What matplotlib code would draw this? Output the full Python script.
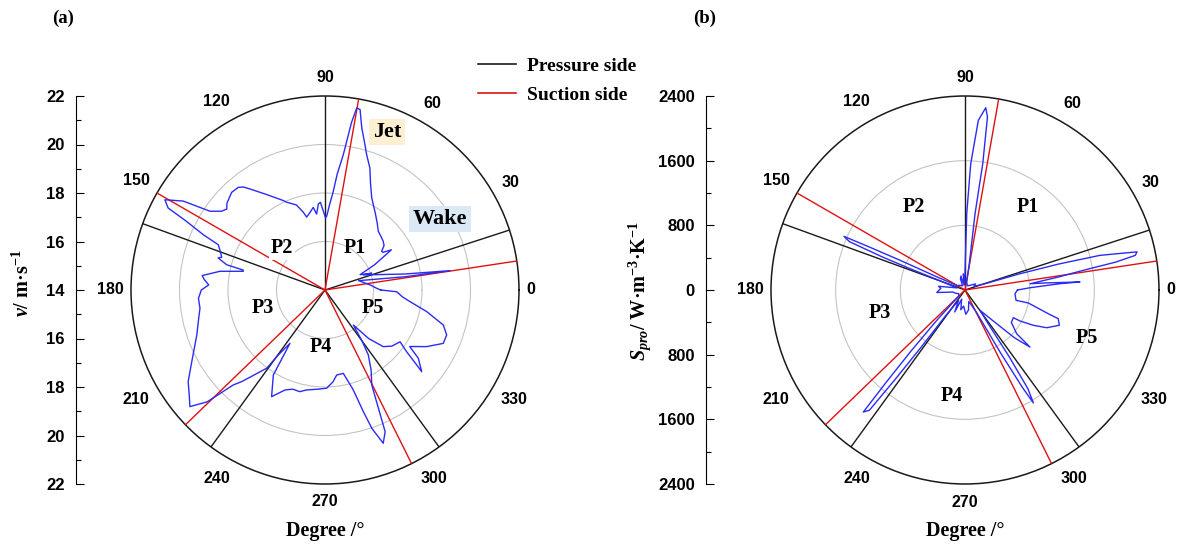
import numpy as np
import matplotlib
matplotlib.use("Agg")
import matplotlib.pyplot as plt
from matplotlib.lines import Line2D

plt.rcParams['mathtext.fontset'] = 'custom'
plt.rcParams['mathtext.rm'] = 'Liberation Serif:bold'
plt.rcParams['mathtext.it'] = 'Liberation Serif:italic:bold'
plt.rcParams['mathtext.bf'] = 'Liberation Serif:bold'

# ---------------- data ----------------
theta_ticks = list(range(0, 360, 30))
pressure_angles = [90, 18, 306, 234, 160]
suction_angles = [80, 8.6, 296.5, 224, 150]

# panel (a): velocity (m/s) vs angle (deg)
vel_theta = [0, 1.9, 6, 15.5, 9.4, 8.8, 11.3, 21.4, 19.7, 23.6, 27, 31.2, 33, 34.3, 37,
             39.9, 44, 47.8, 52, 57, 63.1, 67, 69.8, 72.9, 75, 77.2, 79, 80.1, 81, 82.3,
             84, 85.2, 87, 88.7, 89.6, 91.5, 93, 94.4, 96.3, 98.1, 100.9, 104.1, 105.6, 108.6,
             113.6, 115, 118, 121.3, 126.6, 128.4, 130.2, 133.7, 137, 138.5, 140.5, 142.7, 145.6, 147.9,
             150.6, 152.4, 153.6, 155.6, 157, 159.8, 162.4, 163.3, 165.6, 166.3, 167.1, 169.9, 173.3, 175,
             177.5, 180, 183.8, 188.3, 193, 199.3, 204, 208.3, 213.8, 218, 220.8, 223.5, 226, 227.7,
             230, 233.3, 234.3, 236.7, 238.7, 243.4, 248.2, 252, 256, 259.6, 266, 271, 275, 277.8,
             282.4, 285.8, 287.5, 288.7, 290.8, 293, 294.3, 296.2, 300, 303.7, 306, 309, 312, 315.8,
             320, 325.4, 322.9, 320.7, 319.8, 323.8, 326.3, 330.9, 335.7, 339.7, 343.5, 348, 352.2, 355,
             358.6, 360]
vel_value = [16.3, 16.13, 15.9, 15.44, 17.35, 19.22, 17.37, 15.7, 16.05, 15.58, 16.3, 17.2, 16.85, 16.83, 17.05,
             17.13, 17.2, 17.27, 17.5, 17.8, 18.26, 18.8, 19.36, 19.84, 20.3, 20.85, 21.58, 21.62, 21.0, 19.63,
             18.8, 18.08, 17.5, 17.04, 16.98, 17.3, 17.62, 17.56, 17.15, 17.44, 17.26, 17.1, 17.33, 17.7,
             17.95, 18.07, 18.3, 18.6, 19.19, 19.42, 19.54, 19.57, 19.45, 19.4, 19.25, 19.36, 19.75, 20.9,
             21.58, 21.3, 20.4, 19.5, 18.78, 18.6, 18.47, 18.6, 18.19, 17.47, 17.46, 18.4, 19.1, 19.0,
             18.8, 19.1, 19.23, 19.21, 19.35, 19.6, 19.9, 20.24, 20.79, 21.1, 21.36, 20.7, 19.44, 19.11,
             18.6, 18.02, 17.3, 16.63, 18.1, 18.92, 18.44, 18.3, 18.32, 18.19, 18.1, 18.05, 17.8, 17.54,
             17.52, 18.28, 19.26, 20.02, 20.76, 20.35, 19.35, 18.37, 17.8, 17.22, 16.6, 15.86, 16.7, 17.35,
             17.6, 17.76, 18.22, 18.9, 19.22, 18.77, 18.2, 18.8, 19.35, 19.35, 19.09, 18.29, 17.54, 17.2,
             16.96, 16.3]

# panel (b): entropy production vs angle (deg)
s_theta = [0, 2, 3.8, 4.0, 5.0, 5.5, 7.9, 9.5, 10.5, 11.5, 12.5, 14.4, 15.5, 16.5, 17.5,
           22, 30, 45, 60, 72, 78, 80.7, 82.5, 82.0, 82.6, 83.5, 85.5, 87.4, 88.7, 89.5,
           92, 96, 100, 106, 112, 120, 135, 145, 150, 155, 155.4, 155.8, 156.1, 157.3, 158.2,
           158.8, 160, 165, 172, 176, 180, 185, 190, 200, 210, 218, 224, 227, 228.5, 229.5,
           230.2, 231.5, 232, 232.5, 233, 238, 245, 250, 258, 265, 272, 280, 288, 293, 297,
           299.5, 300.5, 301.2, 302.5, 303.5, 304.5, 306.5, 312, 316, 318.7, 319.8, 325, 330.2, 330.6,
           332.7, 335.2, 339.5, 342.9, 344.1, 348.4, 348.6, 355.8, 360]
s_value = [650, 805, 1178, 1426, 1000, 810, 1165, 1500, 1900, 2150, 2180, 1724, 1200, 700, 250,
           120, 150, 80, 60, 80, 100, 330, 952, 1578, 2158, 2270, 2106, 1564, 944, 300,
           80, 200, 60, 180, 150, 60, 80, 100, 100, 400, 884, 1300, 1638, 1550, 1100,
           730, 300, 100, 330, 300, 320, 350, 150, 120, 90, 100, 100, 500, 1000, 1500,
           1965, 1900, 1400, 900, 400, 150, 300, 120, 250, 200, 300, 250, 150, 200, 300,
           900, 1400, 1633, 1450, 1000, 500, 313, 500, 850, 1069, 837, 700, 689, 781,
           951, 1113, 1246, 1207, 1071, 800, 644, 620, 650]

vel_ticks = [-8, -6, -4, -2, 0, 2, 4, 6, 8]
vel_tick_labels = ['22', '20', '18', '16', '14', '16', '18', '20', '22']
s_ticks = [-2400, -1600, -800, 0, 800, 1600, 2400]
s_tick_labels = ['2400', '1600', '800', '0', '800', '1600', '2400']

# ---------------- figure ----------------
W, H = 1177, 545
fig = plt.figure(figsize=(W / 100, H / 100), dpi=100)
R = 194
SANS = 'Liberation Sans'
SERIF = 'Liberation Serif'
BLUE = '#2b2bf5'
RED = '#e01010'
BLACK = '#1a1a1a'
TFS = 11.5


def fx(x):
    return x / W


def fy(y):
    return 1 - y / H


def make_polar(cx, cy, rmin, rmax, grid):
    ax = fig.add_axes([(cx - R) / W, 1 - (cy + R) / H, 2 * R / W, 2 * R / H], projection='polar')
    ax.set_ylim(rmin, rmax)
    ax.set_yticks(grid)
    ax.set_yticklabels([])
    ax.yaxis.grid(True, color='#c4c4c4', lw=0.8)
    ax.xaxis.grid(False)
    ax.set_xticks(np.deg2rad(theta_ticks))
    ax.set_xticklabels([])
    ax.tick_params(axis='x', direction='in', length=5, width=0.8)
    ax.tick_params(axis='y', length=0)
    ax.spines['polar'].set_linewidth(1.1)
    ax.spines['polar'].set_color(BLACK)
    # angle labels placed just outside the rim
    digit_w = 0.556 * TFS * 100 / 72
    for t in theta_ticks:
        lab = str(t)
        c, s = np.cos(np.deg2rad(t)), np.sin(np.deg2rad(t))
        d = 7 + abs(c) * len(lab) * digit_w / 2 + abs(s) * 11
        ax.annotate(lab, xy=(np.deg2rad(t), rmax), xytext=(c * d, s * d), textcoords='offset pixels',
                    ha='center', va='center', fontfamily=SANS, fontweight='bold', fontsize=TFS,
                    annotation_clip=False)
    for a in pressure_angles:
        ax.plot(np.deg2rad([a, a]), [rmin, rmax], color=BLACK, lw=1.0, zorder=3)
    for a in suction_angles:
        ax.plot(np.deg2rad([a, a]), [rmin, rmax], color=RED, lw=1.0, zorder=3)
    return ax


def make_scale(x, cy, lim, ticks, labels, minor):
    axs = fig.add_axes([x / W, 1 - (cy + R) / H, 0.0005, 2 * R / H])
    for s in ['top', 'right', 'bottom']:
        axs.spines[s].set_visible(False)
    axs.spines['left'].set_linewidth(0.8)
    axs.patch.set_visible(False)
    axs.set_xticks([])
    axs.set_ylim(-lim, lim)
    axs.set_yticks(ticks)
    axs.set_yticklabels(labels, fontfamily=SANS, fontweight='bold', fontsize=12)
    axs.set_yticks(minor, minor=True)
    axs.tick_params(axis='y', which='major', direction='in', length=6, width=0.8, pad=8)
    axs.tick_params(axis='y', which='minor', direction='in', length=3.5, width=0.8)
    return axs


# panel (a)
axa = make_polar(325, 290, 14, 22, [16, 18, 20])
axa.plot(np.deg2rad(vel_theta), vel_value, color=BLUE, lw=1.0, zorder=4)
make_scale(76, 290, 8, vel_ticks, vel_tick_labels, [-7, -5, -3, -1, 1, 3, 5, 7])

# panel (b)
axb = make_polar(965, 290, 0, 2400, [800, 1600])
axb.plot(np.deg2rad(s_theta), s_value, color=BLUE, lw=1.0, zorder=4)
make_scale(706, 290, 2400, s_ticks, s_tick_labels, [-2000, -1200, -400, 400, 1200, 2000])

# labels
tfont = dict(fontfamily=SERIF, fontweight='bold')
fig.text(fx(63), fy(18), '(a)', ha='center', va='center', fontsize=13.5, **tfont)
fig.text(fx(705), fy(18), '(b)', ha='center', va='center', fontsize=13.5, **tfont)
fig.text(fx(325), fy(531), 'Degree /°', ha='center', va='center', fontsize=14.5, **tfont)
fig.text(fx(965), fy(531), 'Degree /°', ha='center', va='center', fontsize=14.5, **tfont)
fig.text(fx(23), fy(283), r'$v$/ m·s$^{-1}$', rotation=90, ha='center', va='center', fontsize=14.5, **tfont)
fig.text(fx(640), fy(291), r'$S_{pro}$/ W·m$^{-3}$·K$^{-1}$', rotation=90, ha='center', va='center',
         fontsize=14.5, **tfont)

pa = {'P1': (355, 248), 'P2': (282, 248), 'P3': (263, 308), 'P4': (321, 347), 'P5': (373, 308)}
for k, (x, y) in pa.items():
    kw = {}
    if k == 'P2':
        kw['bbox'] = dict(boxstyle='square,pad=0.1', fc='white', ec='none')
    fig.text(fx(x), fy(y), k, ha='center', va='center', fontsize=14.5, zorder=10, **kw, **tfont)
pb = {'P1': (1028, 207), 'P2': (914, 207), 'P3': (880, 313), 'P4': (952, 396), 'P5': (1087, 338)}
for k, (x, y) in pb.items():
    fig.text(fx(x), fy(y), k, ha='center', va='center', fontsize=14.5, zorder=10, **tfont)

fig.text(fx(387), fy(132), 'Jet', ha='center', va='center', fontsize=16, zorder=10,
         bbox=dict(boxstyle='square,pad=0.15', fc='#fcefd2', ec='none'), **tfont)
fig.text(fx(440), fy(219), 'Wake', ha='center', va='center', fontsize=16, zorder=10,
         bbox=dict(boxstyle='square,pad=0.15', fc='#dbe8f5', ec='none'), **tfont)

handles = [Line2D([], [], color=BLACK, lw=1.2), Line2D([], [], color=RED, lw=1.2)]
fig.legend(handles, ['Pressure side', 'Suction side'], loc='upper left',
           bbox_to_anchor=(fx(478), fy(57)), frameon=False,
           prop=dict(family=SERIF, weight='bold', size=14),
           handlelength=1.95, handletextpad=0.55, labelspacing=0.6, borderpad=0, borderaxespad=0)

fig.savefig('out.png', dpi=100)
